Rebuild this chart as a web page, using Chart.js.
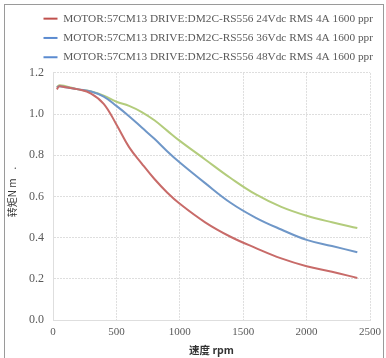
<!DOCTYPE html>
<html>
<head>
<meta charset="utf-8">
<script src="https://cdn.jsdelivr.net/npm/chart.js@4"></script>
<style>
  html, body { margin: 0; padding: 0; background: #fff; overflow: hidden; }
  #wrap { position: relative; width: 386px; height: 358px; overflow: hidden; }
  #frame {
    position: absolute; left: 4px; top: 4px; width: 378px; height: 360px;
    border: 1px solid #9a9a9a; pointer-events: none;
  }
</style>
</head>
<body>
<div id="wrap">
  <canvas id="torque" width="386" height="358"></canvas>
  <div id="frame"></div>
</div>
<script>
// --- data ---
const speeds = [30, 50, 100, 200, 300, 400, 500, 600, 700, 800, 900, 1000, 1200, 1400, 1600, 1800, 2000, 2200, 2400];
const torque24 = [1.12, 1.135, 1.13, 1.12, 1.10, 1.05, 0.95, 0.84, 0.76, 0.685, 0.62, 0.565, 0.475, 0.405, 0.35, 0.30, 0.262, 0.235, 0.205];
const torque36 = [1.13, 1.135, 1.13, 1.12, 1.11, 1.085, 1.04, 0.99, 0.935, 0.88, 0.82, 0.765, 0.665, 0.57, 0.497, 0.44, 0.39, 0.36, 0.33];
const torque48 = [1.13, 1.14, 1.135, 1.12, 1.11, 1.09, 1.06, 1.04, 1.01, 0.97, 0.92, 0.87, 0.78, 0.69, 0.61, 0.55, 0.507, 0.475, 0.447];
const seriesNames = [
  "MOTOR:57CM13 DRIVE:DM2C-RS556 24Vdc RMS 4A 1600 ppr",
  "MOTOR:57CM13 DRIVE:DM2C-RS556 36Vdc RMS 4A 1600 ppr",
  "MOTOR:57CM13 DRIVE:DM2C-RS556 48Vdc RMS 4A 1600 ppr",
];
const lineColors = ["#c86b69", "#6f97c8", "#b3cc7c"];
const legendColors = ["#c0504d", "#5b8bd0", "#5b8bd0"];

const serif = "'Liberation Serif', 'DejaVu Serif', serif";
const gridColor = "#dedede";

function toPoints(ys) {
  return speeds.map((x, i) => ({ x: x, y: ys[i] }));
}

const ctx = document.getElementById("torque");

new Chart(ctx, {
  type: "line",
  data: {
    datasets: [torque24, torque36, torque48].map((ys, i) => ({
      label: seriesNames[i],
      data: toPoints(ys),
      borderColor: lineColors[i],
      backgroundColor: lineColors[i],
      borderWidth: 2,
      pointRadius: 0,
      tension: 0.4,
      fill: false,
    })),
  },
  options: {
    responsive: false,
    animation: false,
    layout: { padding: { left: 6, right: 5, top: 5, bottom: 2 } },
    plugins: {
      legend: {
        position: "top",
        align: "end",
        labels: {
          boxWidth: 14,
          boxHeight: 2,
          padding: 8,
          color: "#595959",
          font: { family: serif, size: 11.3 },
          generateLabels(chart) {
            return chart.data.datasets.map((ds, i) => ({
              text: ds.label,
              fillStyle: legendColors[i],
              strokeStyle: legendColors[i],
              lineWidth: 0,
              fontColor: "#595959",
              datasetIndex: i,
            }));
          },
        },
      },
      tooltip: { enabled: false },
    },
    scales: {
      x: {
        type: "linear",
        min: 0,
        max: 2500,
        ticks: {
          stepSize: 500,
          color: "#595959",
          padding: 5,
          font: { family: serif, size: 11 },
          callback: (v) => String(v),
        },
        grid: { color: gridColor, drawTicks: false },
        border: { color: gridColor, dash: [2, 1] },
        title: {
          display: true,
          text: "速度 rpm",
          color: "#333",
          font: { family: "'Noto Sans CJK SC', serif", size: 10.5, weight: "bold" },
          padding: { top: 0, bottom: 0 },
        },
      },
      y: {
        min: 0,
        max: 1.2,
        ticks: {
          stepSize: 0.2,
          color: "#595959",
          padding: 9,
          font: { family: serif, size: 12 },
          callback: (v) => v.toFixed(1),
        },
        grid: { color: gridColor, drawTicks: false },
        border: { color: gridColor, dash: [2, 1] },
        title: {
          display: true,
          text: "    转矩N m    .",
          color: "#333",
          font: { family: "'Noto Sans CJK SC', serif", size: 10 },
          padding: { top: 0, bottom: 2 },
        },
      },
    },
  },
});
</script>
</body>
</html>
